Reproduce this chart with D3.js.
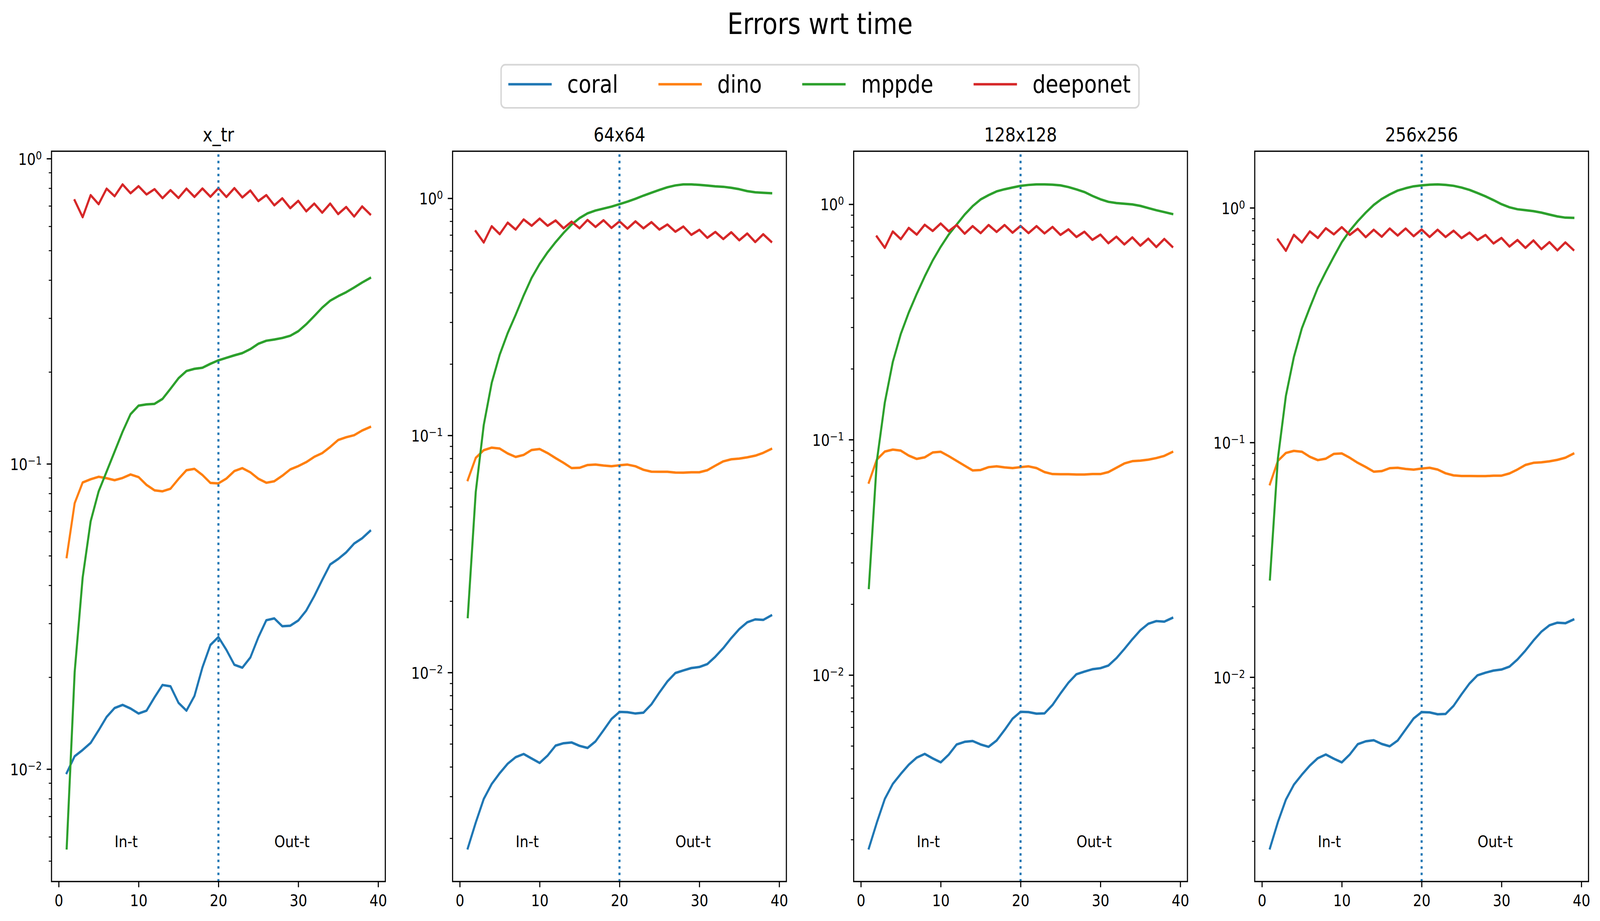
<!DOCTYPE html>
<html>
<head>
<meta charset="utf-8">
<script src="https://cdn.jsdelivr.net/npm/d3@7"></script>
<style>
  html, body { margin: 0; padding: 0; background: #ffffff; overflow: hidden; }
  svg { display: block; }
  text { font-family: "DejaVu Sans", sans-serif; fill: #000; }
</style>
</head>
<body>
<script>
// ---------------- DATA ----------------
const seriesNames = ["coral", "dino", "mppde", "deeponet"];
const panelTitles = ["x_tr", "64x64", "128x128", "256x256"];
const xTickValues = [0, 10, 20, 30, 40];
const splitTime = 20;
const regionLabels = ["In-t", "Out-t"];
const regionLabelTimes = [7, 27];
const timeSteps = d3.range(1, 40);      // 1..39
const deeponetSteps = d3.range(2, 40);  // 2..39

// panel 1 : x_tr
const coral_xtr = [0.00971,0.01102,0.01155,0.01218,0.01340,0.01482,0.01585,0.01623,0.01579,0.01521,0.01554,0.01718,0.01886,0.01867,0.01649,0.01554,0.01736,0.02153,0.02551,0.02707,0.02458,0.02196,0.02149,0.02320,0.02702,0.03074,0.03116,0.02937,0.02949,0.03067,0.03306,0.03686,0.04166,0.04682,0.04880,0.05128,0.05483,0.05704,0.06029];
const dino_xtr = [0.0495,0.0743,0.0869,0.0890,0.0907,0.0897,0.0884,0.0899,0.0923,0.0905,0.0853,0.0819,0.0813,0.0829,0.0892,0.0953,0.0963,0.0919,0.0866,0.0863,0.0895,0.0947,0.0968,0.0938,0.0894,0.0867,0.0877,0.0914,0.0959,0.0983,0.1013,0.1054,0.1084,0.1136,0.1197,0.1222,0.1241,0.1286,0.1320];
const mppde_xtr = [0.00550,0.0208,0.0424,0.0648,0.0812,0.0943,0.1096,0.1274,0.1455,0.1551,0.1566,0.1572,0.1632,0.1762,0.1907,0.2014,0.2048,0.2064,0.2127,0.2183,0.2225,0.2267,0.2306,0.2376,0.2474,0.2531,0.2555,0.2584,0.2628,0.2719,0.2866,0.3048,0.3249,0.3424,0.3542,0.3650,0.3782,0.3927,0.4062];
const deeponet_xtr = [0.730,0.643,0.759,0.709,0.797,0.753,0.823,0.770,0.812,0.763,0.794,0.742,0.788,0.743,0.797,0.749,0.798,0.750,0.800,0.749,0.800,0.746,0.786,0.726,0.759,0.703,0.741,0.688,0.727,0.672,0.712,0.665,0.712,0.658,0.694,0.646,0.697,0.657];

// panel 2 : 64x64
const coral_64 = [0.001813,0.002328,0.002928,0.003388,0.003762,0.004123,0.004395,0.004531,0.004339,0.004154,0.004463,0.004917,0.005031,0.005070,0.004905,0.004806,0.005122,0.005705,0.006366,0.006820,0.006803,0.006715,0.006768,0.007340,0.008236,0.009170,0.009949,0.010206,0.010443,0.010550,0.010850,0.011655,0.012676,0.013969,0.015238,0.016285,0.016749,0.016662,0.017401];
const dino_64 = [0.0648,0.0804,0.0866,0.0888,0.0880,0.0839,0.0811,0.0827,0.0868,0.0876,0.0842,0.0802,0.0766,0.0728,0.0730,0.0750,0.0753,0.0746,0.0741,0.0748,0.0753,0.0741,0.0716,0.0703,0.0702,0.0702,0.0697,0.0696,0.0699,0.0699,0.0713,0.0745,0.0777,0.0793,0.0798,0.0808,0.0821,0.0844,0.0876];
const mppde_64 = [0.01714,0.0577,0.1105,0.1665,0.219,0.270,0.3225,0.389,0.462,0.5285,0.592,0.653,0.7145,0.775,0.825,0.864,0.888,0.905,0.922,0.944,0.968,0.995,1.026,1.055,1.085,1.113,1.133,1.144,1.144,1.139,1.131,1.123,1.118,1.107,1.092,1.072,1.060,1.055,1.050];
const deeponet_64 = [0.726,0.651,0.762,0.706,0.789,0.738,0.814,0.766,0.821,0.766,0.806,0.747,0.797,0.747,0.810,0.757,0.808,0.750,0.799,0.745,0.799,0.747,0.793,0.738,0.775,0.723,0.760,0.701,0.736,0.681,0.721,0.673,0.719,0.665,0.710,0.654,0.705,0.656];

// panel 3 : 128x128
const coral_128 = [0.001835,0.00236,0.002976,0.003447,0.003801,0.004159,0.004458,0.004622,0.004424,0.004256,0.004587,0.00507,0.005203,0.005244,0.00507,0.004955,0.00527,0.005841,0.006525,0.006976,0.006958,0.006851,0.006869,0.007458,0.008351,0.009281,0.010078,0.010339,0.010582,0.01069,0.010969,0.011789,0.012899,0.014191,0.015488,0.016515,0.016945,0.016856,0.017477];
const dino_128 = [0.0657,0.0823,0.0890,0.0907,0.0898,0.0855,0.0828,0.0841,0.0882,0.0888,0.0851,0.0812,0.0775,0.0740,0.0743,0.0764,0.0770,0.0762,0.0757,0.0764,0.0770,0.0757,0.0728,0.0714,0.0713,0.0713,0.0711,0.0711,0.0714,0.0714,0.0728,0.0759,0.0792,0.0810,0.0814,0.0822,0.0835,0.0853,0.0886];
const mppde_128 = [0.02344,0.0810,0.1437,0.2138,0.2811,0.3468,0.4163,0.4935,0.5772,0.6595,0.743,0.820,0.904,0.9815,1.048,1.093,1.134,1.158,1.178,1.197,1.208,1.214,1.214,1.211,1.203,1.183,1.156,1.127,1.085,1.050,1.024,1.012,1.005,0.998,0.984,0.963,0.943,0.926,0.909];
const deeponet_128 = [0.729,0.653,0.766,0.711,0.793,0.743,0.818,0.770,0.828,0.768,0.816,0.750,0.807,0.754,0.816,0.763,0.816,0.757,0.809,0.754,0.807,0.752,0.801,0.741,0.782,0.726,0.764,0.706,0.743,0.683,0.728,0.675,0.723,0.667,0.714,0.658,0.712,0.660];

// panel 4 : 256x256
const coral_256 = [0.001864,0.002412,0.003005,0.003480,0.003839,0.004200,0.004515,0.004681,0.004493,0.004334,0.004681,0.005179,0.005328,0.005383,0.005192,0.005073,0.005369,0.005984,0.006668,0.007096,0.007077,0.006950,0.006968,0.007546,0.008455,0.009400,0.010182,0.010449,0.010666,0.010777,0.011087,0.011887,0.012976,0.014316,0.015626,0.016625,0.017061,0.016971,0.017591];
const dino_256 = [0.0664,0.0835,0.0902,0.0921,0.0913,0.0869,0.0841,0.0853,0.0894,0.0898,0.0861,0.0819,0.0786,0.0751,0.0755,0.0777,0.0780,0.0771,0.0766,0.0774,0.0780,0.0767,0.0739,0.0724,0.0720,0.0720,0.0719,0.0719,0.0722,0.0722,0.0738,0.0767,0.0802,0.0819,0.0823,0.0831,0.0843,0.0861,0.0896];
const mppde_256 = [0.02611,0.0855,0.1579,0.2313,0.3064,0.3757,0.4562,0.5338,0.6188,0.7137,0.7987,0.877,0.954,1.0285,1.0905,1.140,1.184,1.212,1.235,1.246,1.255,1.258,1.252,1.241,1.220,1.192,1.156,1.119,1.078,1.036,1.005,0.986,0.977,0.968,0.954,0.936,0.919,0.908,0.906];
const deeponet_256 = [0.732,0.656,0.767,0.712,0.793,0.744,0.818,0.771,0.827,0.767,0.814,0.750,0.806,0.753,0.816,0.762,0.816,0.757,0.808,0.751,0.806,0.751,0.799,0.743,0.784,0.729,0.766,0.705,0.744,0.684,0.729,0.675,0.726,0.667,0.714,0.659,0.712,0.662];

// ---------------- LAYOUT / STYLE ----------------
const W = 4839, H = 2357;
const colors = {coral: "#1f77b4", dino: "#ff7f0e", mppde: "#2ca02c", deeponet: "#d62728"};
const AX = {left0: 155.8, step: 1213, width: 1009.5, top: 387, height: 1869};
const LW = 6.25, SPINE = 3.33, MAJ = 14.6, MIN = 8.33, PAD = 14.6;
const TICKFS = 41.67, SUPFS = 29.2, TITLEFS = 50, SUPTFS = 75, LEGFS = 62.5;

const panels = [
  {coral: coral_xtr, dino: dino_xtr, mppde: mppde_xtr, deeponet: deeponet_xtr},
  {coral: coral_64, dino: dino_64, mppde: mppde_64, deeponet: deeponet_64},
  {coral: coral_128, dino: dino_128, mppde: mppde_128, deeponet: deeponet_128},
  {coral: coral_256, dino: dino_256, mppde: mppde_256, deeponet: deeponet_256}
];
const stepsFor = name => name === "deeponet" ? deeponetSteps : timeSteps;

// fit the 4839x2357 drawing to whatever viewport the browser gives us
const vw = window.innerWidth || document.documentElement.clientWidth || W;
const vh = window.innerHeight || document.documentElement.clientHeight || H;
const svg = d3.select("body").append("svg")
  .attr("width", vw).attr("height", vh).attr("viewBox", `0 0 ${W} ${H}`)
  .attr("preserveAspectRatio", "none");
svg.append("rect").attr("width", W).attr("height", H).attr("fill", "#fff");

// suptitle
const figCenter = AX.left0 + (AX.step * 3 + AX.width) / 2;
svg.append("text").attr("x", figCenter).attr("y", 87)
  .attr("text-anchor", "middle").attr("font-size", SUPTFS).text("Errors wrt time");

panels.forEach((p, i) => {
  const left = AX.left0 + i * AX.step, right = left + AX.width;
  const top = AX.top, bottom = AX.top + AX.height;
  const g = svg.append("g");

  const allT = timeSteps.concat(deeponetSteps);
  const tMin = d3.min(allT), tMax = d3.max(allT), tm = 0.05 * (tMax - tMin);
  const x = d3.scaleLinear().domain([tMin - tm, tMax + tm]).range([left, right]);

  const allV = seriesNames.flatMap(n => p[n]);
  const lo = Math.log10(d3.min(allV)), hi = Math.log10(d3.max(allV));
  const lm = 0.05 * (hi - lo);
  const yLo = lo - lm, yHi = hi + lm;
  const y = d3.scaleLog().domain([Math.pow(10, yLo), Math.pow(10, yHi)]).range([bottom, top]);

  const line = d3.line().x(d => x(d[0])).y(d => y(d[1]));
  seriesNames.forEach(n => {
    const pts = stepsFor(n).map((t, k) => [t, p[n][k]]);
    g.append("path").attr("d", line(pts)).attr("fill", "none")
      .attr("stroke", colors[n]).attr("stroke-width", LW)
      .attr("stroke-linejoin", "round").attr("stroke-linecap", "square");
  });

  g.append("line").attr("x1", x(splitTime)).attr("x2", x(splitTime))
    .attr("y1", bottom).attr("y2", top)
    .attr("stroke", colors.coral).attr("stroke-width", LW)
    .attr("stroke-dasharray", "6.25,10.31").attr("stroke-linecap", "butt");

  const yMinVal = d3.min(allV);
  regionLabels.forEach((lab, k) => {
    g.append("text").attr("x", x(regionLabelTimes[k])).attr("y", y(yMinVal) - 3)
      .attr("font-size", TICKFS).text(lab);
  });

  g.append("rect").attr("x", left).attr("y", top).attr("width", AX.width).attr("height", AX.height)
    .attr("fill", "none").attr("stroke", "#000").attr("stroke-width", SPINE);

  const xa = g.append("g").attr("transform", `translate(0,${bottom})`)
    .call(d3.axisBottom(x).tickValues(xTickValues).tickSize(MAJ).tickPadding(PAD).tickFormat(d3.format("d")));
  xa.select(".domain").remove();
  xa.selectAll(".tick line").attr("stroke", "#000").attr("stroke-width", SPINE);
  xa.selectAll(".tick text").attr("font-size", TICKFS).attr("font-family", "DejaVu Sans")
    .attr("fill", "#000").attr("y", 63.5).attr("dy", null);

  const majors = [], minors = [];
  for (let k = Math.floor(yLo) - 1; k <= Math.ceil(yHi) + 1; k++) {
    const v = Math.pow(10, k);
    if (Math.log10(v) >= yLo && Math.log10(v) <= yHi) majors.push(k);
    for (let m = 2; m <= 9; m++) {
      const mv = m * v;
      if (Math.log10(mv) >= yLo && Math.log10(mv) <= yHi) minors.push(mv);
    }
  }
  const yaMin = g.append("g").attr("transform", `translate(${left},0)`)
    .call(d3.axisLeft(y).tickValues(minors).tickSize(MIN).tickFormat(""));
  yaMin.select(".domain").remove();
  yaMin.selectAll(".tick line").attr("stroke", "#000").attr("stroke-width", 2.5);
  const yaMaj = g.append("g").attr("transform", `translate(${left},0)`)
    .call(d3.axisLeft(y).tickValues(majors.map(k => Math.pow(10, k))).tickSize(MAJ).tickFormat(""));
  yaMaj.select(".domain").remove();
  yaMaj.selectAll(".tick line").attr("stroke", "#000").attr("stroke-width", SPINE);

  majors.forEach(k => {
    const ty = y(Math.pow(10, k));
    const t = g.append("text").attr("x", left - MAJ - PAD).attr("y", ty + 15.8)
      .attr("text-anchor", "end").attr("font-size", TICKFS);
    t.append("tspan").text("10");
    t.append("tspan").attr("dy", -14).attr("font-size", SUPFS)
      .text(k < 0 ? "\u2212" + Math.abs(k) : String(k));
  });

  g.append("text").attr("x", (left + right) / 2).attr("y", 362)
    .attr("text-anchor", "middle").attr("font-size", TITLEFS).text(panelTitles[i]);
});

// legend
const leg = svg.append("g");
const bp = 0.4 * LEGFS, hl = 2.0 * LEGFS, htp = 0.8 * LEGFS, cs = 2.0 * LEGFS;
const tmp = leg.append("g");
const widths = seriesNames.map(n => {
  const t = tmp.append("text").attr("font-size", LEGFS).text(n);
  const w = t.node().getComputedTextLength(); t.remove(); return w;
});
tmp.remove();
const legW = 2 * bp + seriesNames.length * (hl + htp) + d3.sum(widths) + (seriesNames.length - 1) * cs;
const legX = figCenter - legW / 2, legY = 165.7, legH = 110.3;
leg.append("rect").attr("x", legX).attr("y", legY).attr("width", legW).attr("height", legH)
  .attr("rx", 12.5).attr("ry", 12.5)
  .attr("fill", "#fff").attr("fill-opacity", 0.8)
  .attr("stroke", "#cccccc").attr("stroke-opacity", 0.8).attr("stroke-width", 4.17);
let cx = legX + bp;
seriesNames.forEach((n, k) => {
  leg.append("line").attr("x1", cx).attr("x2", cx + hl).attr("y1", 215.7).attr("y2", 215.7)
    .attr("stroke", colors[n]).attr("stroke-width", LW).attr("stroke-linecap", "square");
  leg.append("text").attr("x", cx + hl + htp).attr("y", 237.3).attr("font-size", LEGFS).text(n);
  cx += hl + htp + widths[k] + cs;
});
</script>
</body>
</html>
